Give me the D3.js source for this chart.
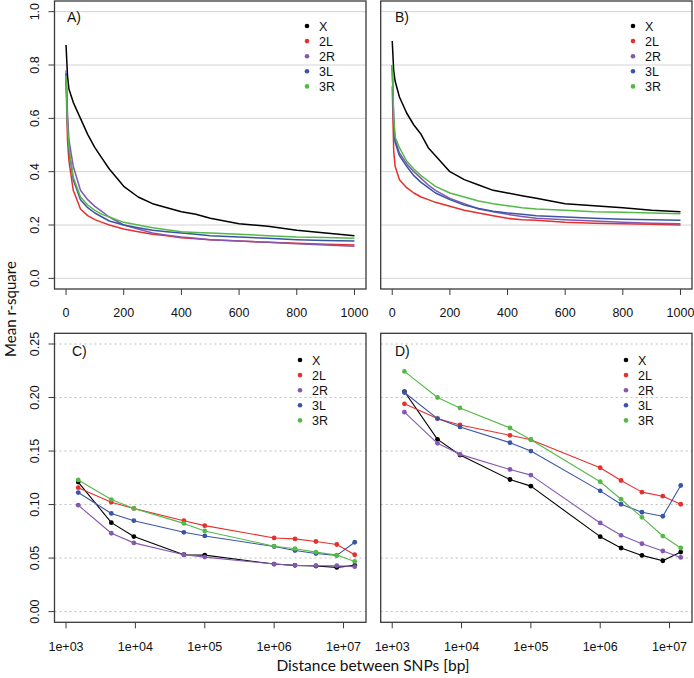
<!DOCTYPE html>
<html><head><meta charset="utf-8">
<script src="https://cdn.jsdelivr.net/npm/d3@7"></script>
<style>
html,body{margin:0;padding:0;background:#fff;}
svg{display:block;}
text{font-family:"Liberation Sans",Arial,sans-serif;}
</style></head>
<body>
<svg id="chart" width="694" height="678"></svg>
<script>
// ---------- DATA ----------
const seriesNames = ["X", "2L", "2R", "3L", "3R"];
const seriesColors = ["#000000", "#E5302E", "#8458B0", "#3A55A6", "#55B947"];

// Top panels: distance (bp, 0-1000) vs mean r-square
const topDist = [0, 5, 10, 25, 50, 75, 100, 125, 150, 200, 250, 300, 350, 400, 450, 500, 600, 700, 800, 900, 1000];
const panelA_X  = [0.875, 0.76, 0.71, 0.66, 0.60, 0.54, 0.49, 0.45, 0.41, 0.345, 0.305, 0.28, 0.265, 0.25, 0.24, 0.225, 0.205, 0.195, 0.18, 0.17, 0.16];
const panelA_2L = [0.74, 0.52, 0.44, 0.33, 0.26, 0.235, 0.22, 0.21, 0.20, 0.185, 0.175, 0.165, 0.16, 0.152, 0.148, 0.145, 0.14, 0.135, 0.132, 0.128, 0.125];
const panelA_2R = [0.78, 0.62, 0.52, 0.42, 0.33, 0.295, 0.27, 0.25, 0.23, 0.20, 0.185, 0.17, 0.162, 0.155, 0.15, 0.145, 0.14, 0.135, 0.13, 0.125, 0.12];
const panelA_3L = [0.77, 0.58, 0.48, 0.37, 0.295, 0.265, 0.245, 0.23, 0.215, 0.20, 0.19, 0.18, 0.175, 0.17, 0.165, 0.16, 0.155, 0.15, 0.145, 0.142, 0.14];
const panelA_3R = [0.76, 0.58, 0.49, 0.38, 0.305, 0.275, 0.255, 0.24, 0.23, 0.21, 0.20, 0.19, 0.182, 0.175, 0.172, 0.17, 0.165, 0.16, 0.155, 0.153, 0.15];

const panelB_X  = [0.89, 0.78, 0.74, 0.68, 0.62, 0.575, 0.54, 0.49, 0.46, 0.40, 0.37, 0.35, 0.33, 0.32, 0.31, 0.30, 0.28, 0.272, 0.265, 0.255, 0.25];
const panelB_2L = [0.72, 0.48, 0.42, 0.37, 0.34, 0.32, 0.305, 0.295, 0.285, 0.27, 0.255, 0.245, 0.235, 0.225, 0.22, 0.218, 0.21, 0.207, 0.205, 0.203, 0.20];
const panelB_2R = [0.80, 0.60, 0.52, 0.47, 0.43, 0.40, 0.375, 0.35, 0.33, 0.30, 0.28, 0.26, 0.25, 0.24, 0.232, 0.225, 0.22, 0.215, 0.21, 0.207, 0.205];
const panelB_3L = [0.80, 0.58, 0.51, 0.46, 0.42, 0.385, 0.36, 0.34, 0.32, 0.295, 0.275, 0.262, 0.252, 0.245, 0.24, 0.235, 0.23, 0.225, 0.222, 0.22, 0.218];
const panelB_3R = [0.80, 0.60, 0.53, 0.49, 0.44, 0.41, 0.385, 0.365, 0.345, 0.32, 0.305, 0.29, 0.28, 0.272, 0.265, 0.26, 0.255, 0.25, 0.248, 0.245, 0.242];

// Bottom panels: binned distances (bp, log scale)
const botDist = [1500, 4500, 9500, 50000, 100000, 1000000, 2000000, 4000000, 8000000, 14500000];
const panelC_X  = [0.121, 0.0831, 0.0701, 0.0531, 0.0528, 0.0444, 0.0432, 0.0426, 0.0413, 0.0432];
const panelC_2L = [0.1158, 0.1022, 0.0964, 0.0849, 0.0803, 0.0688, 0.0679, 0.0655, 0.0627, 0.0531];
const panelC_2R = [0.0994, 0.0732, 0.0642, 0.0531, 0.0509, 0.0444, 0.0432, 0.0429, 0.0429, 0.0420];
const panelC_3L = [0.1112, 0.0917, 0.0849, 0.0741, 0.0707, 0.0608, 0.0571, 0.0543, 0.0525, 0.0648];
const panelC_3R = [0.123, 0.1047, 0.0964, 0.0824, 0.0753, 0.0611, 0.0587, 0.0556, 0.0528, 0.0469];

const panelD_X  = [0.2056, 0.1609, 0.1463, 0.1234, 0.1172, 0.0700, 0.0594, 0.0525, 0.0475, 0.0556];
const panelD_2L = [0.1941, 0.1803, 0.1744, 0.1647, 0.1606, 0.1344, 0.1225, 0.1116, 0.1078, 0.1003];
const panelD_2R = [0.1863, 0.1572, 0.1469, 0.1328, 0.1275, 0.0828, 0.0713, 0.0634, 0.0566, 0.0506];
const panelD_3L = [0.2047, 0.1803, 0.1725, 0.1578, 0.1500, 0.1128, 0.1003, 0.0928, 0.0891, 0.1178];
const panelD_3R = [0.2244, 0.2000, 0.1903, 0.1716, 0.1606, 0.1213, 0.1050, 0.0881, 0.0706, 0.0594];

const topTicksX = [0, 200, 400, 600, 800, 1000];
const topTicksY = [0.0, 0.2, 0.4, 0.6, 0.8, 1.0];
const botTicksX = [1e3, 1e4, 1e5, 1e6, 1e7];
const botTicksY = [0.00, 0.05, 0.10, 0.15, 0.20, 0.25];
const panelLabels = ["A)", "B)", "C)", "D)"];
const yTitle = "Mean r-square";
const xTitle = "Distance between SNPs [bp]";

// ---------- LAYOUT ----------
const svg = d3.select("#chart");
const colL = [54.5, 366], colR = [380.7, 692];
const rowT = [289, 1], rowB = [622.3, 333.3];

const yTop = d3.scaleLinear().domain([-0.04, 1.04]).range(rowT);
const yBot = d3.scaleLinear().domain([-0.01, 0.26]).range(rowB);
const xTopA = d3.scaleLinear().domain([-40, 1040]).range(colL);
const xTopB = d3.scaleLinear().domain([-40, 1040]).range(colR);
const logDom = [Math.pow(10, 2.834), Math.pow(10, 7.324)];
const xBotC = d3.scaleLog().domain(logDom).range(colL);
const xBotD = d3.scaleLog().domain(logDom).range(colR);

const panels = [
  {x: xTopA, y: yTop, xs: topDist, data: [panelA_X, panelA_2L, panelA_2R, panelA_3L, panelA_3R], type: "top", yAxis: true, label: panelLabels[0], labX: 67, labY: 22, legY: 26},
  {x: xTopB, y: yTop, xs: topDist, data: [panelB_X, panelB_2L, panelB_2R, panelB_3L, panelB_3R], type: "top", yAxis: false, label: panelLabels[1], labX: 395, labY: 22, legY: 26},
  {x: xBotC, y: yBot, xs: botDist, data: [panelC_X, panelC_2L, panelC_2R, panelC_3L, panelC_3R], type: "bot", yAxis: true, label: panelLabels[2], labX: 72, labY: 356, legY: 360},
  {x: xBotD, y: yBot, xs: botDist, data: [panelD_X, panelD_2L, panelD_2R, panelD_3L, panelD_3R], type: "bot", yAxis: false, label: panelLabels[3], labX: 395, labY: 356, legY: 360}
];

const fmtTopY = d3.format(".1f");
const fmtBotY = d3.format(".2f");
const fmtBotX = v => "1e+0" + Math.round(Math.log10(v));

panels.forEach(p => {
  const g = svg.append("g");
  const [x0, x1] = p.x.range();
  const [y0, y1] = p.y.range(); // y0 bottom, y1 top
  const yTicks = p.type === "top" ? topTicksY : botTicksY;
  const xTicks = p.type === "top" ? topTicksX : botTicksX;

  // gridlines
  g.selectAll(".grid").data(yTicks).join("line")
    .attr("x1", x0).attr("x2", x1)
    .attr("y1", d => p.y(d)).attr("y2", d => p.y(d))
    .attr("stroke", p.type === "top" ? "#d4d4d4" : "#bdbdbd")
    .attr("stroke-width", 1)
    .attr("stroke-dasharray", p.type === "top" ? null : "2,3");

  // series
  p.data.forEach((vals, i) => {
    const pts = p.xs.map((xv, k) => [xv, vals[k]]);
    const line = d3.line().x(d => p.x(d[0])).y(d => p.y(d[1]));
    g.append("path").attr("d", line(pts)).attr("fill", "none")
      .attr("stroke", seriesColors[i])
      .attr("stroke-width", p.type === "top" ? 1.5 : 1.1)
      .attr("stroke-linejoin", "round");
    if (p.type === "bot") {
      g.selectAll(null).data(pts).join("circle")
        .attr("cx", d => p.x(d[0])).attr("cy", d => p.y(d[1]))
        .attr("r", 2.4).attr("fill", seriesColors[i]);
    }
  });

  // box
  g.append("rect").attr("x", x0).attr("y", y1).attr("width", x1 - x0).attr("height", y0 - y1)
    .attr("fill", "none").attr("stroke", "#3a3a3a").attr("stroke-width", 1.3);

  // x axis ticks
  const xa = g.append("g");
  xa.selectAll("line").data(xTicks).join("line")
    .attr("x1", d => p.x(d)).attr("x2", d => p.x(d))
    .attr("y1", y0).attr("y2", y0 + 6)
    .attr("stroke", "#3a3a3a").attr("stroke-width", 1);
  xa.selectAll("text").data(xTicks).join("text")
    .attr("x", d => p.x(d)).attr("y", p.type === "top" ? 316.5 : 650.5)
    .attr("text-anchor", "middle").attr("font-size", 12.5).attr("fill", "#111")
    .text(d => p.type === "top" ? d : fmtBotX(d));

  // y axis
  if (p.yAxis) {
    const ya = g.append("g");
    ya.selectAll("line").data(yTicks).join("line")
      .attr("x1", x0 - 6).attr("x2", x0)
      .attr("y1", d => p.y(d)).attr("y2", d => p.y(d))
      .attr("stroke", "#3a3a3a").attr("stroke-width", 1);
    ya.selectAll("text").data(yTicks).join("text")
      .attr("transform", d => `translate(38.5,${p.y(d)}) rotate(-90)`)
      .attr("text-anchor", "middle").attr("font-size", 12.5).attr("fill", "#111")
      .text(d => p.type === "top" ? fmtTopY(d) : fmtBotY(d));
  }

  // panel label
  g.append("text").attr("x", p.labX).attr("y", p.labY)
    .attr("font-size", 14).attr("fill", "#111").text(p.label);

  // legend
  const dotX = x1 - (p.type === "top" ? 59 : 66);
  seriesNames.forEach((nm, i) => {
    const yy = p.legY + i * 15.1;
    g.append("circle").attr("cx", dotX).attr("cy", yy).attr("r", 2.3).attr("fill", seriesColors[i]);
    g.append("text").attr("x", dotX + 12).attr("y", yy + 4.6)
      .attr("font-size", 12.5).attr("fill", "#111").text(nm);
  });
});

// axis titles
svg.append("text").attr("transform", "translate(15.5,309) rotate(-90)")
  .attr("text-anchor", "middle").attr("font-size", 15).attr("fill", "#111")
  .style("font-family", "Lato, 'Open Sans', sans-serif").text(yTitle);
svg.append("text").attr("x", 373).attr("y", 671)
  .attr("text-anchor", "middle").attr("font-size", 15.5).attr("fill", "#111")
  .style("font-family", "Lato, 'Open Sans', sans-serif").text(xTitle);
</script>
</body></html>
